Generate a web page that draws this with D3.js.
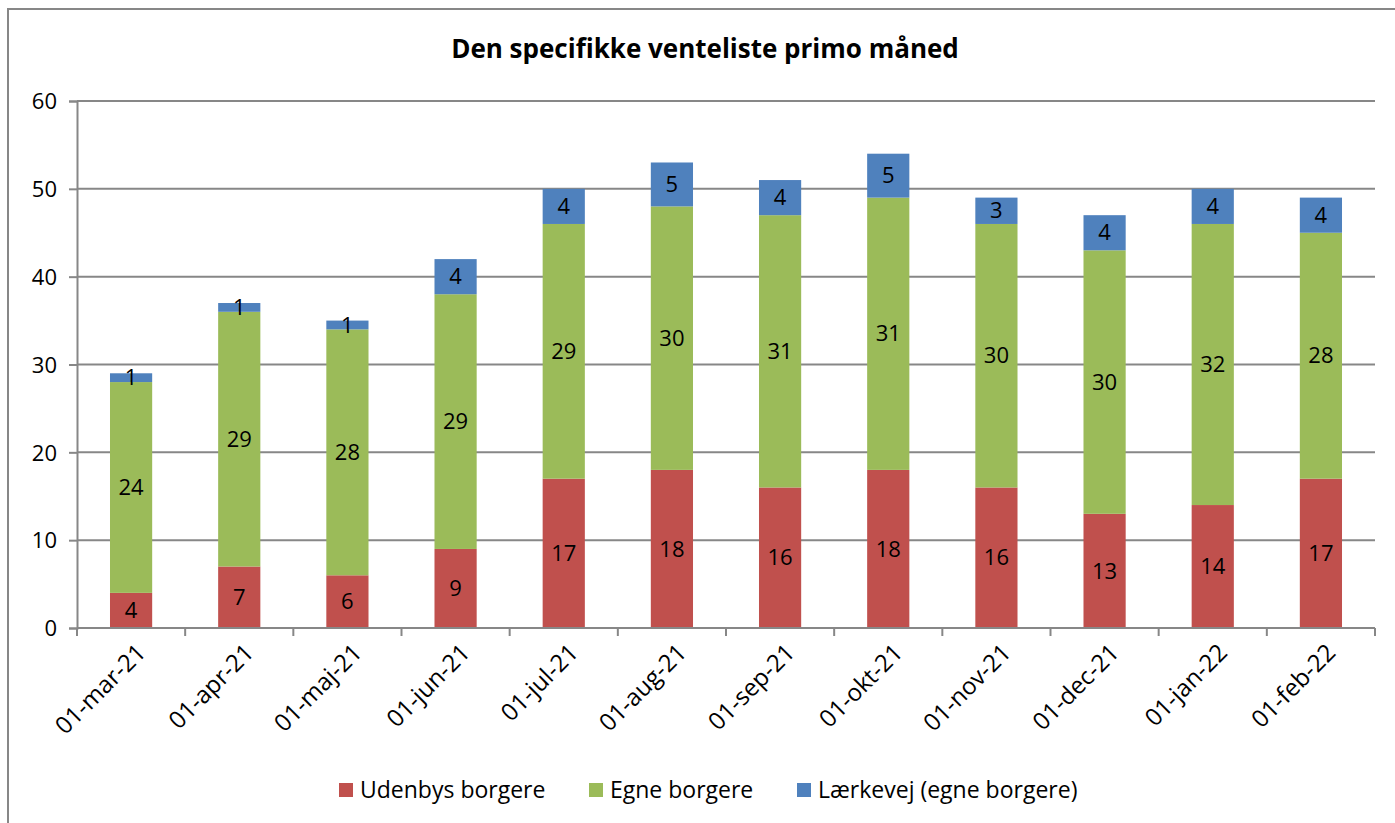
<!DOCTYPE html>
<html>
<head>
<meta charset="utf-8">
<script src="https://cdn.jsdelivr.net/npm/d3@7"></script>
<style>
    body { margin: 0; background: #fff; }
    svg text { font-family: "Open Sans", "Noto Sans", sans-serif; fill: #000; }
</style>
</head>
<body>
<svg id="chart" width="1395" height="823"></svg>
<script>
const months = ['01-mar-21', '01-apr-21', '01-maj-21', '01-jun-21', '01-jul-21', '01-aug-21',
    '01-sep-21', '01-okt-21', '01-nov-21', '01-dec-21', '01-jan-22', '01-feb-22'];
const udenbys = [4, 7, 6, 9, 17, 18, 16, 18, 16, 13, 14, 17];
const egne = [24, 29, 28, 29, 29, 30, 31, 31, 30, 30, 32, 28];
const laerkevej = [1, 1, 1, 4, 4, 5, 4, 5, 3, 4, 4, 4];
const seriesNames = ['Udenbys borgere', 'Egne borgere', 'Lærkevej (egne borgere)'];
const seriesColors = ['#C0504D', '#9BBB59', '#4F81BD'];
const yTicks = [0, 10, 20, 30, 40, 50, 60];

const W = 1395, H = 823;
const plot = {left: 77, right: 1375, top: 101, bottom: 628};
const GRID = '#878787';

const svg = d3.select('#chart');

// outer chart frame (top + left edge visible)
svg.append('path')
    .attr('d', `M8,${H} L8,9 L${W},9`)
    .attr('fill', 'none')
    .attr('stroke', GRID)
    .attr('stroke-width', 2);

// title
svg.append('text')
    .attr('x', 705)
    .attr('y', 58)
    .attr('text-anchor', 'middle')
    .attr('font-size', 26)
    .attr('font-weight', 'bold')
    .text('Den specifikke venteliste primo måned');

const x = d3.scaleBand()
    .domain(months)
    .range([plot.left, plot.right])
    .paddingInner(0.61)
    .paddingOuter(0.305);

const y = d3.scaleLinear()
    .domain([0, 60])
    .range([plot.bottom, plot.top]);

// gridlines + y axis
const yAxis = svg.append('g')
    .attr('transform', `translate(${plot.left},0)`)
    .call(d3.axisLeft(y).tickValues(yTicks).tickSize(8).tickPadding(12).tickFormat(d3.format('d')));
yAxis.select('.domain').attr('stroke', GRID).attr('stroke-width', 2);
yAxis.selectAll('.tick line').attr('stroke', GRID).attr('stroke-width', 2);
yAxis.selectAll('.tick text').attr('font-size', 22).attr('dy', '0.35em');

svg.append('g')
    .selectAll('line')
    .data(yTicks.filter(d => d > 0))
    .join('line')
    .attr('x1', plot.left)
    .attr('x2', plot.right)
    .attr('y1', d => y(d))
    .attr('y2', d => y(d))
    .attr('stroke', GRID)
    .attr('stroke-width', 2);

// stacked data
const rows = months.map((m, i) => ({month: m, s0: udenbys[i], s1: egne[i], s2: laerkevej[i]}));
const stack = d3.stack().keys(['s0', 's1', 's2'])(rows);

const layers = svg.append('g')
    .selectAll('g.layer')
    .data(stack)
    .join('g')
    .classed('layer', true)
    .attr('fill', (d, i) => seriesColors[i]);

layers.selectAll('rect')
    .data(d => d)
    .join('rect')
    .attr('x', d => x(d.data.month))
    .attr('width', x.bandwidth())
    .attr('y', d => y(d[1]))
    .attr('height', d => y(d[0]) - y(d[1]));

// x axis
const step = x.step();
const xAxisG = svg.append('g');
xAxisG.append('line')
    .attr('x1', plot.left).attr('x2', plot.right)
    .attr('y1', plot.bottom).attr('y2', plot.bottom)
    .attr('stroke', GRID).attr('stroke-width', 2);
xAxisG.selectAll('line.tick')
    .data(d3.range(months.length + 1))
    .join('line')
    .classed('tick', true)
    .attr('x1', i => plot.left + i * step)
    .attr('x2', i => plot.left + i * step)
    .attr('y1', plot.bottom)
    .attr('y2', plot.bottom + 8)
    .attr('stroke', GRID).attr('stroke-width', 2);
xAxisG.selectAll('text')
    .data(months)
    .join('text')
    .attr('text-anchor', 'end')
    .attr('font-size', 24)
    .attr('transform', d => `translate(${x(d) + x.bandwidth() / 2 + 16},${plot.bottom + 26}) rotate(-45)`)
    .text(d => d);

// data labels
layers.each(function (layer) {
    d3.select(this).selectAll('text')
        .data(layer)
        .join('text')
        .attr('x', d => x(d.data.month) + x.bandwidth() / 2)
        .attr('y', d => (y(d[0]) + y(d[1])) / 2)
        .attr('dy', '0.35em')
        .attr('text-anchor', 'middle')
        .attr('font-size', 22)
        .attr('fill', '#000')
        .text(d => d[1] - d[0]);
});

// legend
const legendX = [339, 589, 797];
const legend = svg.append('g')
    .selectAll('g')
    .data(seriesNames)
    .join('g')
    .attr('transform', (d, i) => `translate(${legendX[i]},790)`);
legend.append('rect')
    .attr('x', 0).attr('y', -7)
    .attr('width', 14).attr('height', 14)
    .attr('fill', (d, i) => seriesColors[i]);
legend.append('text')
    .attr('x', 21)
    .attr('dy', '0.35em')
    .attr('font-size', 23)
    .text(d => d);
</script>
</body>
</html>
